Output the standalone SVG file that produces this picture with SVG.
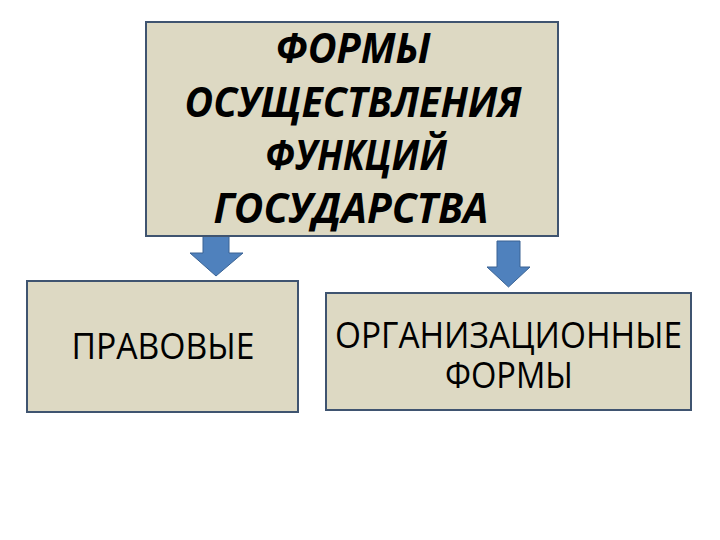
<svg xmlns="http://www.w3.org/2000/svg" width="720" height="540" viewBox="0 0 720 540">
<style>
.box{fill:#DDD9C3;stroke:#3F5470;stroke-width:2}
.arrow{fill:#4F81BD;stroke:#3A6394;stroke-width:1}
.t{font-family:"Open Sans","Liberation Sans",sans-serif;fill:#000;text-anchor:middle}
.tb{font-weight:bold;font-style:italic;font-size:42px}
.tr{font-size:36px}
</style>
<rect width="720" height="540" fill="#fff"/>
<g id="connectors">
<polygon class="arrow" points="203,236 229,236 229,253 243,253 216,276 190,253 203,253"/>
<polygon class="arrow" points="497,241 520,241 520,267 530,267 508.5,287 487,267 497,267"/>
</g>
<g id="node-main">
<rect class="box" x="146" y="22" width="412" height="214"/>
<text class="t tb" x="353" y="63" textLength="155" lengthAdjust="spacingAndGlyphs">ФОРМЫ</text>
<text class="t tb" x="353" y="117" textLength="337" lengthAdjust="spacingAndGlyphs">ОСУЩЕСТВЛЕНИЯ</text>
<text class="t tb" x="356" y="170" textLength="182" lengthAdjust="spacingAndGlyphs">ФУНКЦИЙ</text>
<text class="t tb" x="351" y="223" textLength="275" lengthAdjust="spacingAndGlyphs">ГОСУДАРСТВА</text>
</g>
<g id="node-legal">
<rect class="box" x="27" y="281" width="271" height="131"/>
<text class="t tr" x="163" y="359" textLength="183" lengthAdjust="spacingAndGlyphs">ПРАВОВЫЕ</text>
</g>
<g id="node-org">
<rect class="box" x="326" y="293" width="365" height="117"/>
<text class="t tr" x="508.5" y="348" textLength="347" lengthAdjust="spacingAndGlyphs">ОРГАНИЗАЦИОННЫЕ</text>
<text class="t tr" x="509" y="388" textLength="128" lengthAdjust="spacingAndGlyphs">ФОРМЫ</text>
</g>
</svg>
